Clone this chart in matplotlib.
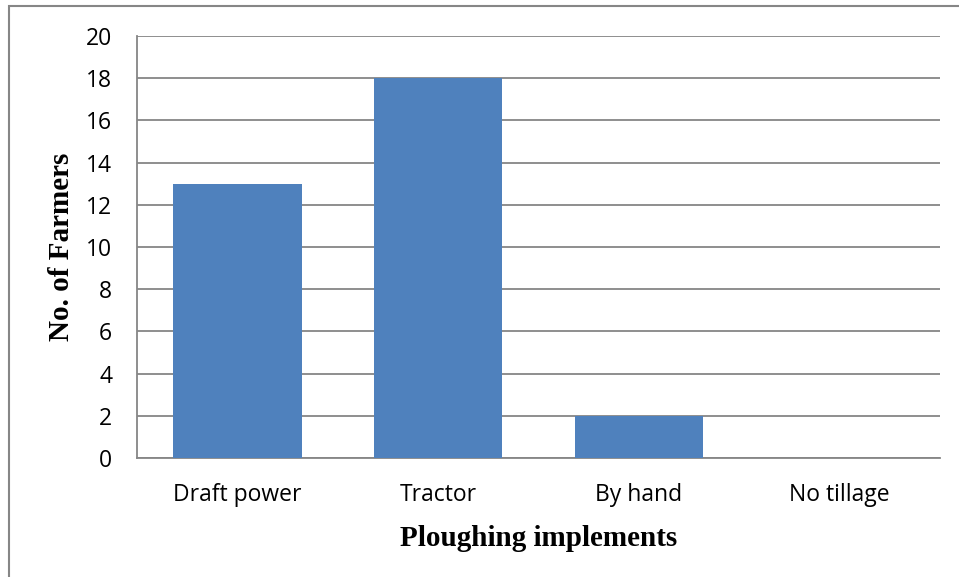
import matplotlib
matplotlib.use("Agg")
import matplotlib.pyplot as plt
from matplotlib.patches import Rectangle

# ploughing implements used by surveyed farmers
categories = ["Draft power", "Tractor", "By hand", "No tillage"]
farmers = [13, 18, 2, 0]
yticks = list(range(0, 21, 2))

W, H = 959, 577
fig = plt.figure(figsize=(W / 100, H / 100), dpi=100)

# outer chart frame (runs off the right and bottom edges)
fig.patches.append(Rectangle((9 / W, -0.05), 1.2, 1 - 6 / H + 0.05,
                             transform=fig.transFigure, fill=False,
                             edgecolor="#868686", linewidth=1.5))

ax = fig.add_axes([137 / W, 1 - 458 / H, (940 - 137) / W, (458 - 36) / H])
x = range(len(categories))
ax.bar(x, farmers, width=0.64, color="#4F81BD", zorder=3)

ax.set_xlim(-0.5, len(categories) - 0.5)
ax.set_ylim(0, 20)
ax.set_yticks(yticks)
ax.set_xticks(list(x))
ax.set_xticklabels(categories)
ax.yaxis.grid(True, color="#868686", linewidth=1.3, zorder=0)

for side in ("top", "right"):
    ax.spines[side].set_visible(False)
for side in ("left", "bottom"):
    ax.spines[side].set_color("#868686")
    ax.spines[side].set_linewidth(1.3)

ax.tick_params(length=0, labelsize=16.5)
ax.tick_params(axis="y", pad=18)
ax.tick_params(axis="x", pad=18)
for lab in ax.get_xticklabels() + ax.get_yticklabels():
    lab.set_fontfamily("Open Sans")

ax.set_xlabel("Ploughing implements", fontfamily="Liberation Serif",
              fontweight="bold", fontsize=21, labelpad=13)
ax.set_ylabel("No. of Farmers", fontfamily="Liberation Serif",
              fontweight="bold", fontsize=21, labelpad=8)

fig.savefig("out.png", dpi=100)
